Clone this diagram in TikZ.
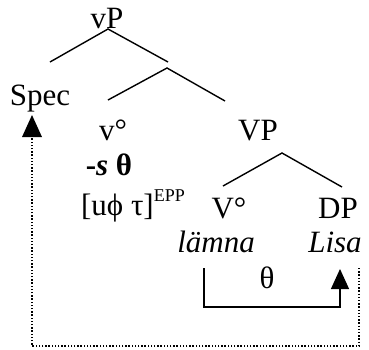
\documentclass[tikz,border=0pt]{standalone}
\usepackage{fontspec}
\setmainfont{Liberation Serif}
\usetikzlibrary{arrows.meta}
\begin{document}
\begin{tikzpicture}[x=1pt,y=-1pt,
  lab/.style={anchor=base,inner sep=0pt,font=\fontsize{31}{36}\selectfont},
  branch/.style={line width=1.4pt},
  bracket/.style={line width=1.2pt,-{Triangle[length=20pt,width=18pt]}},
  dotline/.style={line width=1.4pt,dash pattern=on 1.4pt off 1.8pt}]
\useasboundingbox (0,0) rectangle (369,349);
% labels
\node[lab] (vP) at (107,28) {vP};
\node[lab] (spec) at (40,105) {Spec};
\node[lab] (vdeg) at (113,140) {v°};
\node[lab] (VP) at (258,140) {VP};
\node[lab] (s) at (109,175) {\textbf{-\textit{s} θ}};
\node[lab] (feat) at (133,215) {[uϕ τ]\raisebox{0.42em}{\fontsize{18}{20}\selectfont EPP}};
\node[lab] (Vdeg) at (229,218) {V°};
\node[lab] (DP) at (338,218) {DP};
\node[lab] (lamna) at (216,252) {\itshape lämna};
\node[lab] (lisa) at (335,252) {\itshape Lisa};
\node[lab] (theta) at (267,288) {θ};
% tree coordinates
\coordinate (vPa) at (108,29);
\coordinate (vPl) at (50,62);
\coordinate (vPr) at (168,62);
\coordinate (vba) at (167,68);
\coordinate (vbl) at (108,100);
\coordinate (vbr) at (225,101);
\coordinate (VPa) at (282,153);
\coordinate (VPl) at (223,186);
\coordinate (VPr) at (342,187);
\draw[branch] (vPl) -- (vPa) -- (vPr);
\draw[branch] (vbl) -- (vba) -- (vbr);
\draw[branch] (VPl) -- (VPa) -- (VPr);
% theta bracket
\coordinate (b1) at (204,268);
\coordinate (b2) at (340,269);
\draw[bracket] (b1) -- (204,307) -| (b2);
% dotted movement
\coordinate (d1) at (359,268);
\coordinate (d2) at (32,115);
\draw[dotline] (d1) -- (359,346) -| (32,136);
\fill (d2) -- (22,137) -- (42,137) -- cycle;
\end{tikzpicture}
\end{document}
